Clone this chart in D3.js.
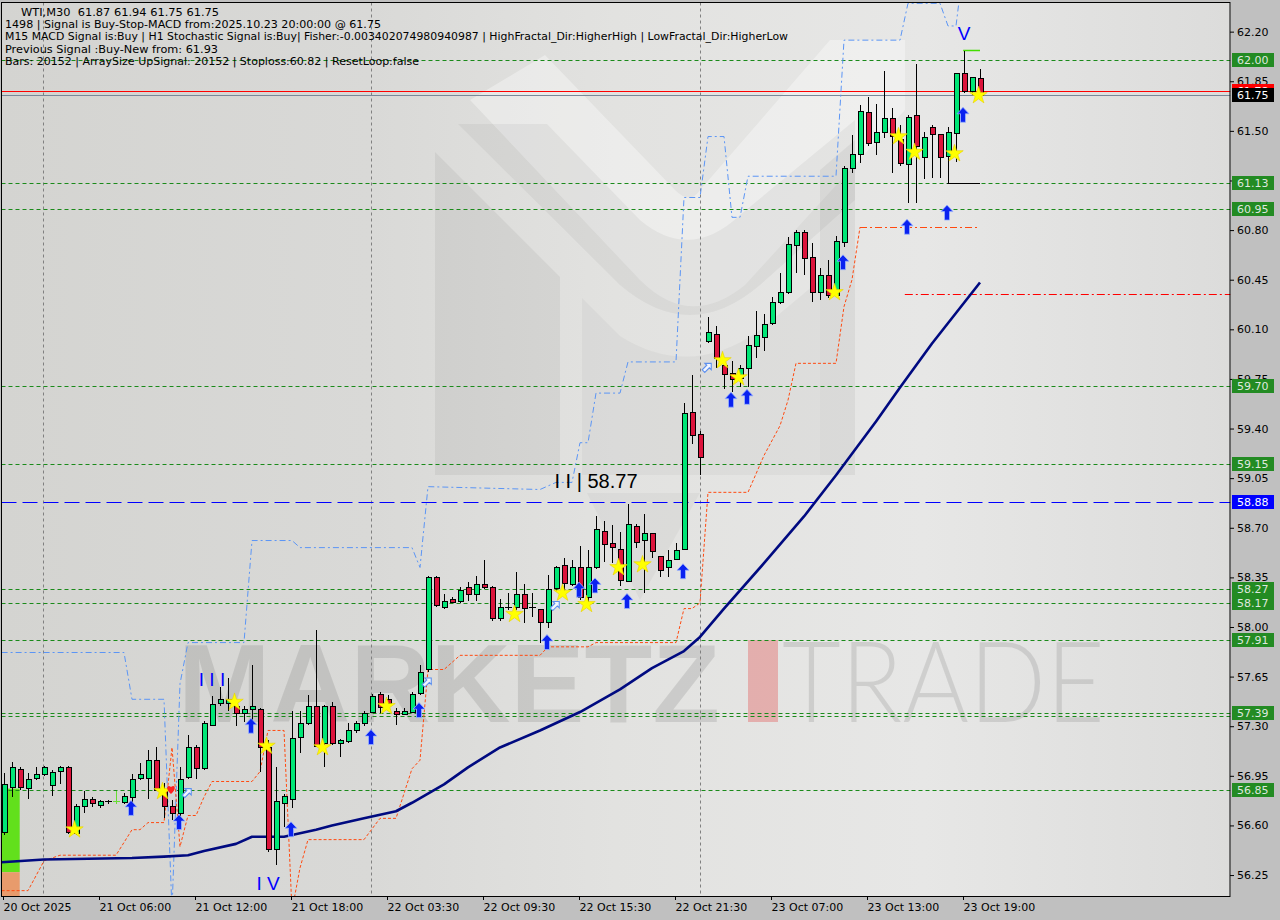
<!DOCTYPE html>
<html><head><meta charset="utf-8">
<script src="https://cdn.jsdelivr.net/npm/d3@7"></script>
<style>
body{margin:0;background:#c0c0c0;}
svg{display:block;}
text{font-family:"DejaVu Sans",sans-serif;}
</style></head>
<body>
<svg id="c" width="1280" height="920"></svg>
<script>
// ---------------- DATA ----------------
const tickBars   = [0,12,24,36,48,60,72,84,96,108,120];
const tickLabels = ["20 Oct 2025","21 Oct 06:00","21 Oct 12:00","21 Oct 18:00","22 Oct 03:30","22 Oct 09:30","22 Oct 15:30","22 Oct 21:30","23 Oct 07:00","23 Oct 13:00","23 Oct 19:00"];
const priceTicks = [62.20,61.85,61.50,61.15,60.80,60.45,60.10,59.75,59.40,59.05,58.70,58.35,58.00,57.65,57.30,56.95,56.60,56.25];
const gridBars = [4.9,45.9,87];

const open  = [56.55,56.87,57.00,56.87,56.93,56.96,56.89,56.98,57.01,56.55,56.74,56.79,56.74,56.77,56.77,56.77,56.80,56.93,56.93,57.06,
56.85,56.74,56.69,56.94,57.15,57.00,57.31,57.46,57.46,57.44,57.39,57.42,57.42,57.15,56.43,56.76,56.79,57.22,57.32,57.44,
57.18,57.44,57.18,57.19,57.27,57.32,57.40,57.53,57.49,57.41,57.39,57.40,57.53,57.70,58.35,58.14,58.20,58.18,58.28,58.23,
58.30,58.28,58.06,58.14,58.14,58.23,58.14,58.13,58.04,58.27,58.44,58.30,58.42,58.21,58.42,58.68,58.59,58.55,58.33,58.71,
58.61,58.66,58.50,58.42,58.48,58.55,59.52,59.36,60.02,60.07,59.85,59.79,59.76,59.83,59.98,60.05,60.14,60.29,60.36,60.70,
60.79,60.61,60.36,60.48,60.34,60.72,61.24,61.34,61.63,61.42,61.49,61.59,61.44,61.27,61.61,61.32,61.53,61.48,61.32,61.49,
61.91,61.78,61.87];
const high  = [56.97,57.05,57.01,56.97,57.01,57.02,56.99,57.02,57.02,56.75,56.84,56.80,56.78,56.78,56.84,56.83,56.96,57.04,57.13,57.15,
56.90,56.78,57.01,57.24,57.17,57.34,57.51,57.58,57.64,57.45,57.44,57.73,57.43,57.20,57.01,56.82,57.41,57.41,57.52,57.98,
57.45,57.47,57.21,57.32,57.34,57.41,57.53,57.54,57.52,57.43,57.43,57.54,57.73,58.36,58.36,58.23,58.21,58.28,58.32,58.36,
58.47,58.29,58.20,58.24,58.39,58.30,58.24,58.13,58.37,58.43,58.49,58.47,58.57,58.54,58.78,58.75,58.72,58.67,58.87,58.73,
58.80,58.66,58.50,58.54,58.59,59.58,59.78,59.38,60.19,60.12,59.90,59.88,59.85,60.05,60.23,60.21,60.33,60.50,60.75,60.80,
60.80,60.71,60.53,60.59,60.76,61.25,61.47,61.68,61.74,61.69,61.92,61.66,61.54,61.61,61.97,61.49,61.54,61.48,61.53,61.91,
62.06,61.88,61.94];
const low   = [56.53,56.80,56.85,56.79,56.92,56.95,56.81,56.89,56.54,56.53,56.69,56.73,56.72,56.75,56.75,56.75,56.73,56.92,56.79,56.84,
56.65,56.64,56.59,56.93,56.93,56.99,57.30,57.44,57.41,57.30,57.33,57.34,56.98,56.41,56.32,56.59,56.72,57.11,57.31,57.15,
57.01,57.17,57.08,57.18,57.25,57.30,57.39,57.39,57.43,57.31,57.38,57.39,57.52,57.68,58.14,58.13,58.17,58.17,58.18,58.18,
58.27,58.04,58.04,58.12,58.12,58.03,58.07,57.89,57.99,58.25,58.24,58.29,58.19,58.14,58.41,58.46,58.45,58.29,58.32,58.56,
58.24,58.49,58.35,58.35,58.47,58.54,59.29,59.07,60.00,59.83,59.68,59.66,59.69,59.69,59.90,59.95,60.13,60.28,60.35,60.50,
60.48,60.29,60.31,60.32,60.33,60.68,61.20,61.27,61.39,61.33,61.45,61.20,61.25,60.99,60.99,61.16,61.17,61.17,61.13,61.28,
61.77,61.75,61.75];
const close = [56.89,57.01,56.87,56.93,56.96,57.01,56.98,57.01,56.55,56.74,56.79,56.76,56.77,56.77,56.77,56.81,56.93,56.96,57.06,56.85,
56.74,56.69,56.93,57.15,57.00,57.32,57.46,57.49,57.49,57.39,57.42,57.44,57.15,56.43,56.77,56.81,57.22,57.32,57.44,57.16,
57.44,57.18,57.20,57.27,57.32,57.39,57.51,57.44,57.46,57.39,57.41,57.53,57.68,58.35,58.15,58.18,58.18,58.26,58.23,58.30,
58.28,58.06,58.14,58.14,58.23,58.13,58.14,58.04,58.27,58.42,58.31,58.42,58.21,58.42,58.69,58.59,58.56,58.33,58.73,58.60,
58.66,58.53,58.40,58.47,58.54,59.51,59.36,59.20,60.08,59.90,59.79,59.75,59.83,59.99,60.06,60.14,60.29,60.36,60.70,60.79,
60.61,60.36,60.48,60.34,60.72,61.24,61.34,61.64,61.41,61.49,61.59,61.46,61.27,61.60,61.39,61.46,61.48,61.32,61.49,61.91,
61.78,61.88,61.75];
const limeDojiBars = [14];

// moving average (navy), read at sampled bars
const maLine = [[-0.3,56.34],[5,56.36],[16,56.37],[20,56.38],[23,56.39],[25,56.42],[29,56.47],[31,56.52],[35,56.52],[39,56.57],[41,56.60],
[45,56.65],[49,56.70],[51,56.76],[55,56.89],[58,57.01],[62,57.15],[67,57.27],[72,57.40],[77,57.56],[81,57.71],[83,57.77],[85,57.83],
[87,57.93],[90,58.13],[95,58.45],[100,58.78],[104,59.07],[109,59.45],[112,59.69],[116,60.00],[122,60.43]];
// upper channel (blue dash-dot)
const upperBand = [[-0.3,57.82],[15,57.82],[16,57.49],[20,57.49],[21,56.0],[22,57.6],[23,57.89],[30,57.89],[31,58.61],[36,58.61],[37,58.56],
[51,58.56],[52,58.42],[53,58.99],[67,58.97],[69,59.02],[71,59.02],[72,59.30],[73,59.30],[74,59.65],[77,59.65],[78,59.87],[84,59.87],
[85,61.03],[87,61.03],[88,61.46],[90,61.46],[91,60.89],[92,60.89],[93,61.18],[104,61.18],[105,62.14],[112,62.14],[113,62.40],[117,62.40],
[118,62.24],[119,62.24],[120,62.70]];
// lower channel (orange dashed)
const lowerBand = [[-0.3,56.14],[3,56.14],[5,56.35],[7,56.39],[14,56.39],[16,56.57],[17,56.57],[18,56.62],[20,56.62],[21,57.15],[22,56.45],
[23,56.67],[24,56.67],[25,56.80],[26,56.91],[31,56.91],[32,56.98],[33,57.27],[35,57.27],[36,56.0],[37,56.30],[38,56.50],[45,56.50],
[47,56.65],[49,56.65],[51,57.00],[52,57.06],[53,57.70],[55,57.70],[57,57.80],[67,57.80],[68,57.86],[73,57.86],[74,57.89],[84,57.89],
[85,58.13],[86,58.13],[87,58.17],[88,58.95],[93,58.95],[95,59.21],[97,59.42],[98,59.60],[99,59.86],[104,59.86],[105,60.26],[106,60.45],[107,60.82]];
const stoploss = {price:60.82, from:107, to:122};

const greenLevels = [62.00,61.13,60.95,59.70,59.15,58.27,58.17,57.91,57.39,57.37,56.85];
const greenLabels = [62.00,61.13,60.95,59.70,59.15,58.27,58.17,57.91,57.39,56.85];
const blueLevel = 58.88;
const askLevel = 61.78, bidLevel = 61.75;
const redDashLevel = {price:60.35, from:112.6};
const fractalLow = {price:61.13, from:117.9, to:122};
const fractalHigh = {price:62.07, from:119.9, to:122};
const zoneBoxes = [{top:56.86,bottom:56.27,color:"#62e01c"},{top:56.27,bottom:56.0,color:"#e89b6c"}];

const stars = [[9,56.57],[20,56.84],[29,57.47],[33,57.16],[40,57.15],[48,57.44],[64,58.09],[70,58.24],[73,58.16],[77,58.42],[80,58.44],
[90,59.88],[92,59.76],[104,60.36],[112,61.46],[114,61.35],[119,61.34],[122,61.75]];
const upArrows = [[16,56.72],[22,56.62],[31,57.30],[36,56.57],[46,57.22],[52,57.41],[68,57.89],[72,58.26],[74,58.29],[78,58.18],[85,58.39],
[91,59.60],[93,59.62],[105,60.57],[113,60.82],[118,60.92],[120,61.61]];
const hollowArrows = [[23,56.83],[53,57.61],[69,58.15],[88,59.83]];
const redMarks = [[21,56.85]];
const waveLabels = [
  {text:"I I I", bar:26, price:57.63, color:"#0000ff", size:19},
  {text:"I V", bar:33, price:56.19, color:"#0000ff", size:19},
  {text:"V", bar:120, price:62.19, color:"#0000ff", size:19},
  {text:"I I | 58.77", bar:74, price:59.03, color:"#000000", size:20}
];
const headerLines = [
  {t:"WTI,M30  61.87 61.94 61.75 61.75", x:21, w:198},
  {t:"1498 | Signal is Buy-Stop-MACD from:2025.10.23 20:00:00 @ 61.75", x:5, w:376},
  {t:"M15 MACD Signal is:Buy | H1 Stochastic Signal is:Buy| Fisher:-0.003402074980940987 | HighFractal_Dir:HigherHigh | LowFractal_Dir:HigherLow", x:5, w:783},
  {t:"Previous Signal :Buy-New from: 61.93", x:5, w:213},
  {t:"Bars: 20152 | ArraySize UpSignal: 20152 | Stoploss:60.82 | ResetLoop:false", x:5, w:414}
];

// ---------------- DRAW ----------------
const svg = d3.select("#c");
const L = 1.5, R = 1230.5, T = 2.5, B = 896.5;
const x = d3.scaleLinear().domain([0,122]).range([4,980]);
const y = d3.scaleLinear().domain([56.85,62.00]).range([790,60]);
const N = open.length;
const bars = d3.range(N);

const defs = svg.append("defs");
const gr = defs.append("linearGradient").attr("id","bg").attr("x1","0").attr("x2","1").attr("y1","0").attr("y2","0");
[[0,"#d4d4d1"],[0.3,"#d9d9d7"],[0.5,"#e2e2e0"],[0.75,"#e7e7e6"],[1,"#dcdcdb"]].forEach(s=>gr.append("stop").attr("offset",s[0]).attr("stop-color",s[1]));
defs.append("clipPath").attr("id","clip").append("rect").attr("x",L).attr("y",T).attr("width",R-L).attr("height",B-T);

svg.append("rect").attr("width",1280).attr("height",920).attr("fill","#c0c0c0");
svg.append("rect").attr("x",L).attr("y",T).attr("width",R-L).attr("height",B-T).attr("fill","url(#bg)");

const plot = svg.append("g").attr("clip-path","url(#clip)");

// watermark logo
const wm = plot.append("g");
wm.append("path").attr("d","M470,100 L640,280 Q690,330 745,285 L905,110 L905,40 L830,40 L700,190 Q690,205 675,190 L545,55 Z").attr("fill","rgba(255,255,255,0.35)");
wm.append("path").attr("d","M435,152 L560,277 L560,475 L435,475 Z").attr("fill","rgba(0,0,0,0.05)");
wm.append("path").attr("d","M458,124 L547,124 L640,220 Q690,262 740,215 L855,120 L855,200 L760,285 Q690,345 620,285 L458,124 Z").attr("fill","rgba(0,0,0,0.045)");
wm.append("path").attr("d","M582,298 L620,336 Q690,380 760,330 L820,280 L820,475 L582,475 Z").attr("fill","rgba(0,0,0,0.03)");
wm.append("path").attr("d","M820,170 L855,140 L855,475 L820,475 Z").attr("fill","rgba(0,0,0,0.05)");
wm.append("path").attr("d","M587,493 L700,493 L640,600 Z").attr("fill","rgba(0,0,0,0.03)");
wm.append("text").attr("x",178).attr("y",722).attr("textLength",542).attr("lengthAdjust","spacingAndGlyphs")
  .style("font-family","'Liberation Sans',Arial,sans-serif").style("font-weight","bold").style("font-size","112px")
  .attr("fill","rgba(0,0,0,0.1)").text("MARKETZ");
wm.append("rect").attr("x",748).attr("y",640).attr("width",30).attr("height",82).attr("fill","rgba(225,70,70,0.34)");
wm.append("text").attr("x",782).attr("y",722).attr("textLength",323).attr("lengthAdjust","spacingAndGlyphs")
  .style("font-family","Lato,sans-serif").style("font-weight","300").style("font-size","112px")
  .attr("fill","rgba(0,0,0,0.1)").text("TRADE");

// zone boxes bottom-left
plot.selectAll(".zone").data(zoneBoxes).join("rect")
  .attr("x",L+0.5).attr("width",x(1.9)-L).attr("y",d=>y(d.top)).attr("height",d=>y(d.bottom)-y(d.top)).attr("fill",d=>d.color);

// vertical grid
plot.selectAll(".vg").data(gridBars).join("line")
  .attr("x1",d=>Math.round(x(d))+0.5).attr("x2",d=>Math.round(x(d))+0.5).attr("y1",T).attr("y2",B)
  .attr("stroke","#808080").attr("stroke-dasharray","3,3");

// green level lines
plot.selectAll(".gl").data(greenLevels).join("line")
  .attr("x1",L).attr("x2",R).attr("y1",d=>Math.round(y(d))+0.5).attr("y2",d=>Math.round(y(d))+0.5)
  .attr("stroke","#1a8a1a").attr("stroke-dasharray","4,3");
// blue level
plot.append("line").attr("x1",L).attr("x2",R).attr("y1",Math.round(y(blueLevel))+0.5).attr("y2",Math.round(y(blueLevel))+0.5)
  .attr("stroke","#0000ff").attr("stroke-dasharray","15,6");
// ask/bid
plot.append("line").attr("x1",L).attr("x2",R).attr("y1",Math.round(y(askLevel))+0.5).attr("y2",Math.round(y(askLevel))+0.5).attr("stroke","#ff0000");
plot.append("line").attr("x1",L).attr("x2",R).attr("y1",Math.round(y(bidLevel))+0.5).attr("y2",Math.round(y(bidLevel))+0.5).attr("stroke","#778899");
// red dash-dot
plot.append("line").attr("x1",x(redDashLevel.from)).attr("x2",R).attr("y1",Math.round(y(redDashLevel.price))+0.5).attr("y2",Math.round(y(redDashLevel.price))+0.5)
  .attr("stroke","#ff0000").attr("stroke-dasharray","8,3,2,3");

// bands
const ln = d3.line().x(d=>x(d[0])).y(d=>y(d[1]));
plot.append("path").attr("d",ln(upperBand)).attr("fill","none").attr("stroke","#5b95f5").attr("stroke-dasharray","6,3,2,3");
plot.append("path").attr("d",ln(lowerBand)).attr("fill","none").attr("stroke","#ff4a10").attr("stroke-dasharray","3,2");
plot.append("line").attr("x1",x(stoploss.from)).attr("x2",x(stoploss.to)).attr("y1",Math.round(y(stoploss.price))+0.5).attr("y2",Math.round(y(stoploss.price))+0.5)
  .attr("stroke","#ff4a10").attr("stroke-dasharray","7,3,2,3");
// MA
plot.append("path").attr("d",ln(maLine)).attr("fill","none").attr("stroke","#000a80").attr("stroke-width",2.6).attr("stroke-linejoin","round");

// fractal lines
plot.append("line").attr("x1",x(fractalLow.from)).attr("x2",x(fractalLow.to)).attr("y1",Math.round(y(fractalLow.price))+0.5).attr("y2",Math.round(y(fractalLow.price))+0.5).attr("stroke","#000");
plot.append("line").attr("x1",x(fractalHigh.from)).attr("x2",x(fractalHigh.to)).attr("y1",Math.round(y(fractalHigh.price))+0.5).attr("y2",Math.round(y(fractalHigh.price))+0.5).attr("stroke","#44dd00").attr("stroke-width",1.5);

// candles
const cg = plot.append("g").attr("shape-rendering","crispEdges");
const cx = i => Math.round(x(i));
cg.selectAll(".wick").data(bars).join("line")
  .attr("x1",i=>cx(i)+0.5).attr("x2",i=>cx(i)+0.5).attr("y1",i=>y(high[i])).attr("y2",i=>y(low[i]))
  .attr("stroke",i=>limeDojiBars.includes(i)?"#66dd33":"#000");
cg.selectAll(".body").data(bars.filter(i=>open[i]!==close[i])).join("rect")
  .attr("x",i=>cx(i)-2).attr("width",5)
  .attr("y",i=>Math.round(y(Math.max(open[i],close[i])))).attr("height",i=>Math.max(1,Math.round(Math.abs(y(open[i])-y(close[i])))))
  .attr("fill",i=>close[i]>open[i]?"#00e676":"#dc143c").attr("stroke","#000");
cg.selectAll(".doji").data(bars.filter(i=>open[i]===close[i])).join("line")
  .attr("x1",i=>cx(i)-3).attr("x2",i=>cx(i)+4).attr("y1",i=>Math.round(y(open[i]))+0.5).attr("y2",i=>Math.round(y(open[i]))+0.5)
  .attr("stroke",i=>limeDojiBars.includes(i)?"#66dd33":"#000");

// markers
const star = d3.symbol().type(d3.symbolStar).size(95);
plot.selectAll(".star").data(stars).join("path").attr("d",star)
  .attr("transform",d=>`translate(${x(d[0])-1.5},${y(d[1])})`).attr("fill","#ffff00").attr("stroke","#e8d000").attr("stroke-width",0.6);
const arrowD = "M0,-8 L6,-1.5 L2.5,-1.5 L2.5,7 L-2.5,7 L-2.5,-1.5 L-6,-1.5 Z";
plot.selectAll(".ua").data(upArrows).join("path").attr("d",arrowD)
  .attr("transform",d=>`translate(${x(d[0])-1},${y(d[1])})`).attr("fill","#0a22f0").attr("stroke","#9ab4ff").attr("stroke-width",0.8);
const hollowD = "M0,-6 L4.5,-1.5 L1.8,-1.5 L1.8,5 L-1.8,5 L-1.8,-1.5 L-4.5,-1.5 Z";
plot.selectAll(".ha").data(hollowArrows).join("path").attr("d",hollowD)
  .attr("transform",d=>`translate(${x(d[0])-1},${y(d[1])}) rotate(45)`).attr("fill","#f2f6ff").attr("stroke","#5d90ee").attr("stroke-width",1.1);
plot.selectAll(".rm").data(redMarks).join("path").attr("d","M0,4 C-6,-1 -4,-6 0,-3 C4,-6 6,-1 0,4 Z")
  .attr("transform",d=>`translate(${x(d[0])-1},${y(d[1])})`).attr("fill","#ff2020");

// wave labels
plot.selectAll(".wl").data(waveLabels).join("text")
  .attr("x",d=>x(d.bar)).attr("y",d=>y(d.price)).attr("dy","0.36em").attr("text-anchor","middle")
  .style("font-family","'Liberation Sans',Arial,sans-serif").style("font-size",d=>d.size+"px").style("white-space","pre")
  .attr("fill",d=>d.color).text(d=>d.text);

// axes
const ra = svg.append("g").attr("transform","translate(1230,0)")
  .call(d3.axisRight(y).tickValues(priceTicks).tickSize(4).tickFormat(d3.format(".2f")));
ra.select(".domain").remove();
ra.selectAll("text").attr("x",7).style("font-size","11px").style("font-family","'DejaVu Sans'").attr("fill","#000");
ra.selectAll("line").attr("stroke","#000");

const ba = svg.append("g").attr("transform","translate(0,896)")
  .call(d3.axisBottom(x).tickValues(tickBars).tickSize(4).tickFormat((d,i)=>tickLabels[i]));
ba.select(".domain").remove();
ba.selectAll("text").attr("x",0).attr("y",15).attr("dy",0).style("text-anchor","start").style("font-size","11px").style("font-family","'DejaVu Sans'").attr("fill","#000");
ba.selectAll("line").attr("stroke","#000");
ba.selectAll(".tick").attr("transform",d=>`translate(${Math.round(x(d))-0.5},0)`);

// price boxes on axis
function priceBox(p, bg, fg){
  const yy = Math.round(y(p));
  svg.append("rect").attr("x",1232).attr("y",yy-7).attr("width",42).attr("height",14).attr("fill",bg);
  svg.append("text").attr("x",1237).attr("y",yy).attr("dy","0.36em").style("font-size","11px").attr("fill",fg).text(p.toFixed(2));
}
greenLabels.forEach(p=>priceBox(p,"#238b23","#dfe8df"));
priceBox(blueLevel,"#0000ff","#ffffff");
priceBox(askLevel,"#ff0000","#ffffff");
priceBox(bidLevel,"#000000","#ffffff");

// frame
svg.append("rect").attr("x",L).attr("y",T).attr("width",R-L-0.5).attr("height",B-T).attr("fill","none").attr("stroke","#000");

// header text
svg.selectAll(".hd").data(headerLines).join("text")
  .attr("x",d=>d.x).attr("y",(d,i)=>16+i*12.2).attr("textLength",d=>d.w).attr("lengthAdjust","spacingAndGlyphs")
  .style("font-size","11px").style("white-space","pre").attr("fill","#000").text(d=>d.t);
</script>
</body></html>
